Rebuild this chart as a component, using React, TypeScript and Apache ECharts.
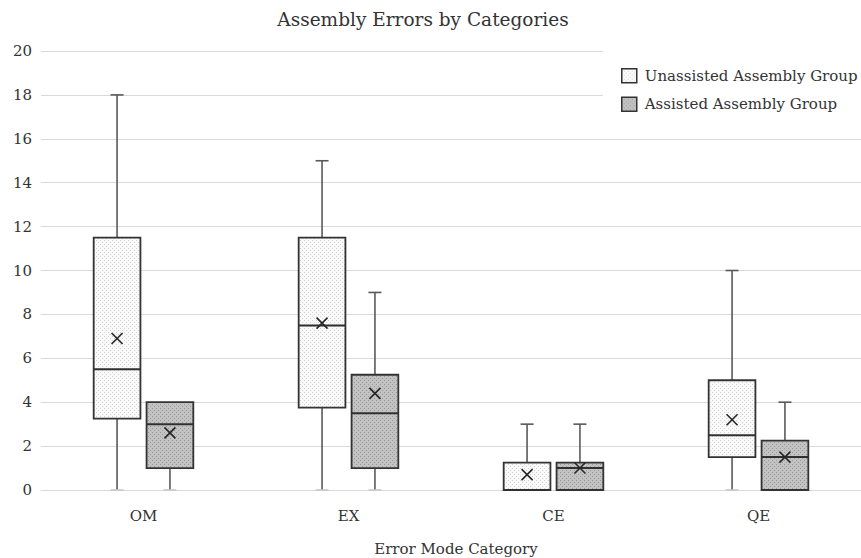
import React, { useEffect, useRef } from "react";
import * as echarts from "echarts";

const categories = ["OM", "EX", "CE", "QE"];
const seriesNames = ["Unassisted Assembly Group", "Assisted Assembly Group"];

const unassistedMin = [0, 0, 0, 0];
const unassistedQ1 = [3.25, 3.75, 0, 1.5];
const unassistedMedian = [5.5, 7.5, 0, 2.5];
const unassistedQ3 = [11.5, 11.5, 1.25, 5];
const unassistedMax = [18, 15, 3, 10];
const unassistedMean = [6.9, 7.6, 0.7, 3.2];

const assistedMin = [0, 0, 0, 0];
const assistedQ1 = [1, 1, 0, 0];
const assistedMedian = [3, 3.5, 1, 1.5];
const assistedQ3 = [4, 5.25, 1.25, 2.25];
const assistedMax = [4, 9, 3, 4];
const assistedMean = [2.6, 4.4, 1.0, 1.5];

const yTicks = [0, 2, 4, 6, 8, 10, 12, 14, 16, 18, 20];

const FONT = "DejaVu Serif";
const FILLS = ["#f1f1f1", "#bdbdbd"];
const BORDER = "#333333";
const WHISKER = "#595959";
const TEXT = "#333333";

function makeDotPattern(bg: string, dot: string): any {
  try {
    const c = document.createElement("canvas");
    c.width = 4;
    c.height = 4;
    const ctx = c.getContext("2d");
    if (!ctx) return bg;
    ctx.fillStyle = bg;
    ctx.fillRect(0, 0, 4, 4);
    ctx.fillStyle = dot;
    ctx.fillRect(0, 0, 1, 1);
    ctx.fillRect(2, 2, 1, 1);
    return { image: c, repeat: "repeat", imageWidth: 4, imageHeight: 4 };
  } catch (e) {
    return bg;
  }
}

function buildData(mins: number[], q1: number[], med: number[], q3: number[], max: number[], mean: number[]) {
  return categories.map((_, i) => [i, mins[i], q1[i], med[i], q3[i], max[i], mean[i]]);
}

function makeRenderItem(offsetFrac: number, fill: any) {
  return (params: any, api: any) => {
    const idx = api.value(0);
    const bw = api.size([1, 0])[0];
    const cx = api.coord([idx, 0])[0] + offsetFrac * bw;
    const boxW = bw * 0.228;
    const y = (v: number) => api.coord([idx, v])[1];
    const yMin = y(api.value(1));
    const yQ1 = y(api.value(2));
    const yMed = y(api.value(3));
    const yQ3 = y(api.value(4));
    const yMax = y(api.value(5));
    const yMean = y(api.value(6));
    const capW = 6.5;
    const xs = 5.5;
    const children: any[] = [];
    if (yMax < yQ3 - 0.5) {
      children.push({ type: "line", shape: { x1: cx, y1: yQ3, x2: cx, y2: yMax }, style: { stroke: WHISKER, lineWidth: 1.6 } });
      children.push({ type: "line", shape: { x1: cx - capW, y1: yMax, x2: cx + capW, y2: yMax }, style: { stroke: WHISKER, lineWidth: 1.6 } });
    }
    if (yMin > yQ1 + 0.5) {
      children.push({ type: "line", shape: { x1: cx, y1: yQ1, x2: cx, y2: yMin }, style: { stroke: WHISKER, lineWidth: 1.6 } });
      children.push({ type: "line", shape: { x1: cx - capW, y1: yMin, x2: cx + capW, y2: yMin }, style: { stroke: "#c8c8c8", lineWidth: 1.6 } });
    }
    children.push({
      type: "rect",
      shape: { x: cx - boxW / 2, y: yQ3, width: boxW, height: yQ1 - yQ3 },
      style: { fill, stroke: BORDER, lineWidth: 1.8 },
    });
    children.push({ type: "line", shape: { x1: cx - boxW / 2, y1: yMed, x2: cx + boxW / 2, y2: yMed }, style: { stroke: "#303030", lineWidth: 2 } });
    children.push({ type: "line", shape: { x1: cx - xs, y1: yMean - xs, x2: cx + xs, y2: yMean + xs }, style: { stroke: "#262626", lineWidth: 1.6 } });
    children.push({ type: "line", shape: { x1: cx - xs, y1: yMean + xs, x2: cx + xs, y2: yMean - xs }, style: { stroke: "#262626", lineWidth: 1.6 } });
    return { type: "group", children };
  };
}

export default function App() {
  const ref = useRef<HTMLDivElement>(null);
  useEffect(() => {
    if (!ref.current) return;
    const chart = echarts.init(ref.current, undefined, { renderer: "svg" });
    const unData = buildData(unassistedMin, unassistedQ1, unassistedMedian, unassistedQ3, unassistedMax, unassistedMean);
    const asData = buildData(assistedMin, assistedQ1, assistedMedian, assistedQ3, assistedMax, assistedMean);
    const patterns = [makeDotPattern("#f9f9f9", "#d2d2d2"), makeDotPattern("#c2c2c2", "#999999")];
    chart.setOption({
      animation: false,
      backgroundColor: "#ffffff",
      textStyle: { fontFamily: FONT },
      graphic: [
        {
          type: "text",
          x: 423,
          y: 19,
          style: {
            text: "Assembly Errors by Categories",
            textAlign: "center",
            textVerticalAlign: "middle",
            fontFamily: FONT,
            fontSize: 18.5,
            fill: TEXT,
          },
        },
        {
          type: "text",
          x: 456,
          y: 549,
          style: {
            text: "Error Mode Category",
            textAlign: "center",
            textVerticalAlign: "middle",
            fontFamily: FONT,
            fontSize: 15,
            fill: TEXT,
          },
        },
      ],
      legend: {
        orient: "vertical",
        left: 603,
        top: 47,
        padding: [21, 10, 18, 18],
        backgroundColor: "#ffffff",
        itemGap: 13,
        itemWidth: 15,
        itemHeight: 14,
        textStyle: { fontFamily: FONT, fontSize: 15, color: TEXT, padding: [0, 0, 0, 3] },
        data: seriesNames.map((n, i) => ({
          name: n,
          icon: "rect",
          itemStyle: { color: patterns[i], borderColor: BORDER, borderWidth: 1.5 },
        })),
      },
      grid: { left: 41, top: 51, width: 826, height: 439 },
      xAxis: {
        type: "category",
        data: categories,
        boundaryGap: true,
        axisLine: { show: true, lineStyle: { color: "#d9d9d9", width: 1 } },
        axisTick: { show: false },
        axisLabel: { fontFamily: FONT, fontSize: 15, color: TEXT, margin: 18 },
        splitLine: { show: false },
      },
      yAxis: {
        type: "value",
        min: yTicks[0],
        max: yTicks[yTicks.length - 1],
        interval: 2,
        axisLine: { show: false },
        axisTick: { show: false },
        axisLabel: { fontFamily: FONT, fontSize: 15, color: TEXT, margin: 9 },
        splitLine: { show: true, lineStyle: { color: "#d9d9d9", width: 1 } },
      },
      series: [
        {
          name: seriesNames[0],
          type: "custom",
          renderItem: makeRenderItem(-0.129, patterns[0]),
          itemStyle: { color: FILLS[0], borderColor: BORDER },
          encode: { x: 0, y: [1, 2, 3, 4, 5, 6] },
          data: unData,
          z: 3,
        },
        {
          name: seriesNames[1],
          type: "custom",
          renderItem: makeRenderItem(0.129, patterns[1]),
          itemStyle: { color: FILLS[1], borderColor: BORDER },
          encode: { x: 0, y: [1, 2, 3, 4, 5, 6] },
          data: asData,
          z: 3,
        },
      ],
    });
    return () => chart.dispose();
  }, []);
  return <div ref={ref} style={{ position: "fixed", left: 0, top: 0, width: 861, height: 558 }} />;
}
